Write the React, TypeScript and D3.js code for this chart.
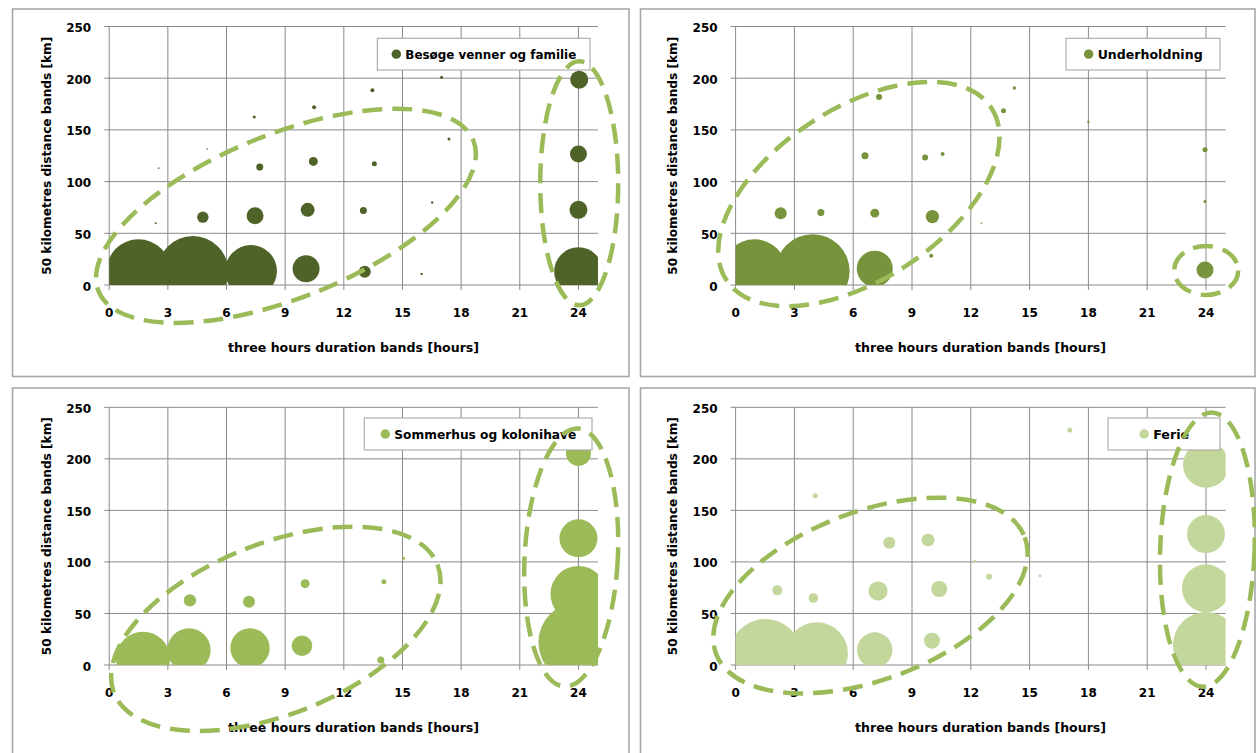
import React from 'react';
import * as d3 from 'd3';

const hourTicks = [0, 3, 6, 9, 12, 15, 18, 21, 24];
const kmTicks = [0, 50, 100, 150, 200, 250];
const xTitle = 'three hours duration bands [hours]';
const yTitle = '50 kilometres distance bands [km]';

// [duration hours, distance km, bubble size]
const besoege: [number, number, number][] = [
  [1.5, 13.3, 102.4], [4.28, 13, 126], [7.25, 13.5, 67.6], [10.07, 15.7, 18.2],
  [13.07, 12.9, 3.6], [15.98, 10.7, 0.14], [2.38, 59.8, 0.1], [2.53, 113, 0.064],
  [4.79, 65.6, 3.25], [5.01, 131.5, 0.064], [7.42, 162.5, 0.225], [7.7, 114, 1.23],
  [7.46, 66.9, 7.2], [10.48, 171.8, 0.4], [10.44, 119.5, 2.0], [10.15, 72.7, 4.9],
  [13.46, 188.3, 0.4], [13.56, 117.2, 0.63], [13.0, 72, 1.23], [17.0, 201, 0.225],
  [17.38, 141.2, 0.225], [16.52, 79.8, 0.14], [24.04, 198.6, 8.1], [24.0, 126.6, 7.2],
  [24.0, 72.7, 8.1], [24.0, 13, 59],
];
const underholdning: [number, number, number][] = [
  [0.96, 13.3, 102.4], [3.93, 13.3, 137], [7.1, 15.8, 32.4], [2.3, 69.5, 3.6],
  [4.35, 70, 1.23], [7.1, 69.5, 2.0], [10.04, 66.2, 4.4], [6.6, 125, 1.23],
  [9.67, 123.4, 0.9], [10.56, 126.6, 0.4], [7.32, 181.9, 0.9], [13.67, 168.6, 0.63],
  [14.22, 190.6, 0.32], [18.0, 158, 0.14], [12.54, 59.8, 0.064], [9.98, 28.4, 0.4],
  [23.95, 130.8, 0.63], [23.95, 80.7, 0.225], [23.95, 14.5, 7.2],
];
const sommerhus: [number, number, number][] = [
  [1.73, 6.1, 72.9], [4.08, 14.5, 47.1], [7.2, 16.5, 38.8], [9.86, 18.7, 10.6],
  [4.13, 62.7, 3.84], [7.15, 61.4, 3.6], [10.02, 78.9, 2.0], [14.05, 80.8, 0.63],
  [15.06, 103.5, 0.225], [13.89, 4.8, 1.23], [24.0, 205.3, 15.6], [24.0, 122.9, 36.1],
  [24.0, 68.9, 78.4], [24.0, 22, 160],
];
const ferie: [number, number, number][] = [
  [1.52, 9.7, 129.6], [4.14, 11.2, 97.3], [7.1, 14.5, 31.3], [10.02, 23.6, 6.4],
  [2.13, 72.4, 2.5], [3.97, 65, 2.3], [7.27, 71.8, 9.2], [10.39, 73.7, 6.4],
  [7.84, 118.6, 3.6], [9.82, 121.3, 4.2], [4.06, 164.2, 0.63], [12.21, 100.9, 0.14],
  [12.93, 85.6, 0.9], [15.53, 86.6, 0.225], [17.05, 227.9, 0.63], [24.0, 194.3, 52.9],
  [24.0, 127, 36.1], [24.0, 74.4, 57.6], [24.0, 19.4, 108.9],
];

const seriesNames = ['Besøge venner og familie', 'Underholdning', 'Sommerhus og kolonihave', 'Ferie'];
const seriesColors = ['#4f6228', '#77933c', '#9bbb59', '#c3d69b'];
const seriesData = [besoege, underholdning, sommerhus, ferie];

// dashed annotation ellipses: [centre hours, centre km, rx, ry, rotation]
const ellipsesBesoege: [number, number, number, number, number][] = [
  [9.04, 66.9, 202, 82, -21.9], [24.04, 98.3, 39, 122, 0],
];
const ellipsesUnderholdning: [number, number, number, number, number][] = [
  [6.29, 88, 158, 86, -32.9], [24.01, 14.05, 32, 24.5, 0],
];
const ellipsesSommerhus: [number, number, number, number, number][] = [
  [8.52, 35.1, 174, 85.4, -21.7], [23.63, 104.3, 46.6, 129.2, 3],
];
const ellipsesFerie: [number, number, number, number, number][] = [
  [6.88, 67.4, 165, 84, -20.7], [24.07, 112, 47.2, 137.2, 2],
];
const seriesEllipses = [ellipsesBesoege, ellipsesUnderholdning, ellipsesSommerhus, ellipsesFerie];

const layouts = [
  { frame: [12.5, 9, 629, 376.5], plot: [109.2, 26.5, 598, 285], legend: [377.3, 38.3, 590, 70], tw: 171 },
  { frame: [640.5, 9, 1255, 376.5], plot: [735.6, 26.5, 1225.6, 285], legend: [1066, 38.3, 1220, 70], tw: 105 },
  { frame: [12.5, 388, 629, 760], plot: [109.2, 407.3, 598, 665], legend: [364.3, 418, 592, 450], tw: 182 },
  { frame: [640.5, 388, 1255, 760], plot: [735.6, 407.3, 1225.6, 665], legend: [1108, 418, 1220, 450], tw: 36 },
];

const FONT = "'DejaVu Sans', 'Liberation Sans', Arial, sans-serif";
const rScale = d3.scaleSqrt().domain([0, 1000]).range([0, 100]);

function Panel({ idx }: { idx: number }) {
  const L = layouts[idx];
  const [pl, pt, pr, pb] = L.plot;
  const x = d3.scaleLinear().domain([0, 25]).range([pl, pr]);
  const y = d3.scaleLinear().domain([0, 250]).range([pb, pt]);
  const data = [...seriesData[idx]].sort((a, b) => b[2] - a[2]);
  const color = seriesColors[idx];
  const clipId = `clip${idx}`;
  const [lx1, ly1, lx2, ly2] = L.legend;
  const lcx = (lx1 + lx2) / 2 + 3;
  const entryW = 4.7 + 9 + L.tw;
  const markerX = lcx - entryW / 2;
  const lcy = (ly1 + ly2) / 2;
  const [fx1, fy1, fx2, fy2] = L.frame;
  return (
    <g>
      <rect x={fx1} y={fy1} width={fx2 - fx1} height={fy2 - fy1} fill="#fff" stroke="#a8a8a8" strokeWidth={1.6} />
      <defs>
        <clipPath id={clipId}>
          <rect x={pl} y={pt} width={pr - pl} height={pb - pt} />
        </clipPath>
      </defs>
      {kmTicks.map((t) => (
        <line key={'h' + t} x1={pl - 5} x2={pr} y1={y(t)} y2={y(t)} stroke="#8a8a8a" strokeWidth={1} />
      ))}
      {hourTicks.map((t) => (
        <line key={'v' + t} x1={x(t)} x2={x(t)} y1={pt} y2={pb + 5} stroke="#8a8a8a" strokeWidth={1} />
      ))}
      <g clipPath={`url(#${clipId})`}>
        {data.map((d, i) => (
          <circle key={i} cx={x(d[0])} cy={y(d[1])} r={rScale(d[2])} fill={color} />
        ))}
      </g>
      {kmTicks.map((t) => (
        <text key={'yl' + t} x={pl - 18} y={y(t) + 1.5} textAnchor="end" dominantBaseline="central"
          fontFamily={FONT} fontWeight="bold" fontSize={12} fill="#000">{t}</text>
      ))}
      {hourTicks.map((t) => (
        <text key={'xl' + t} x={x(t)} y={pb + 28} textAnchor="middle" dominantBaseline="central"
          fontFamily={FONT} fontWeight="bold" fontSize={12} fill="#000">{t}</text>
      ))}
      <text x={(pl + pr) / 2} y={pb + 62} textAnchor="middle" dominantBaseline="central"
        fontFamily={FONT} fontWeight="bold" fontSize={13} fill="#000"
        textLength={251} lengthAdjust="spacingAndGlyphs">{xTitle}</text>
      <text transform={`translate(${pl - 63},${(pt + pb) / 2}) rotate(-90)`} textAnchor="middle" dominantBaseline="central"
        fontFamily={FONT} fontWeight="bold" fontSize={13} fill="#000"
        textLength={238} lengthAdjust="spacingAndGlyphs">{yTitle}</text>
      <rect x={lx1} y={ly1} width={lx2 - lx1} height={ly2 - ly1} fill="#fff" stroke="#a0a0a0" strokeWidth={1} />
      <circle cx={markerX + 2} cy={lcy} r={4.7} fill={color} />
      <text x={markerX + 2 + 9} y={lcy} dominantBaseline="central" fontFamily={FONT} fontWeight="bold"
        fontSize={13} fill="#000" textLength={L.tw} lengthAdjust="spacingAndGlyphs">{seriesNames[idx]}</text>
      {seriesEllipses[idx].map((e, i) => (
        <ellipse key={'e' + i} cx={0} cy={0} rx={e[2]} ry={e[3]}
          transform={`translate(${x(e[0])},${y(e[1])}) rotate(${e[4]})`}
          fill="none" stroke="#9bbb59" strokeWidth={4.5} strokeDasharray="20 10" />
      ))}
    </g>
  );
}

export default function App() {
  return (
    <svg width={1256} height={753} style={{ position: 'absolute', left: 0, top: 0, background: '#fff' }}>
      <rect x={0} y={0} width={1256} height={753} fill="#fff" />
      {[0, 1, 2, 3].map((i) => (
        <Panel key={i} idx={i} />
      ))}
    </svg>
  );
}
